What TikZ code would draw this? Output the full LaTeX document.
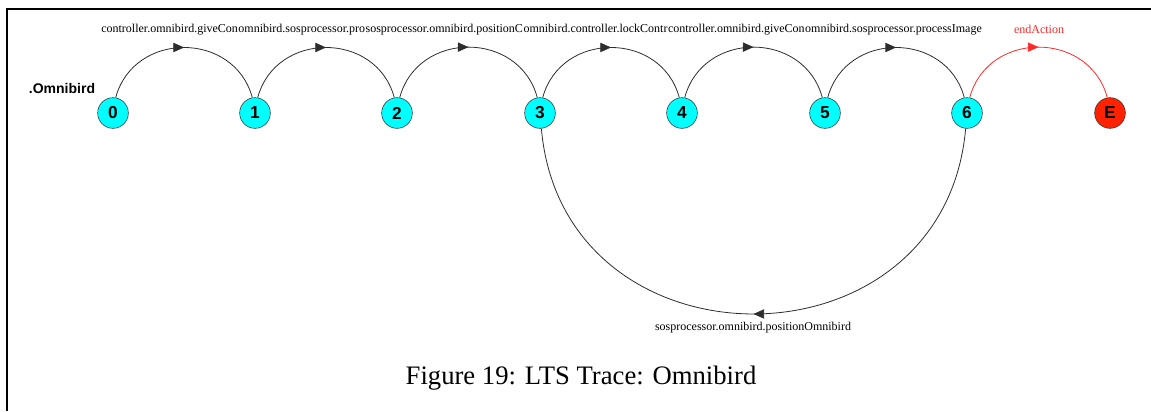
\documentclass[tikz,border=0pt]{standalone}
\usepackage{fontspec}
\setmainfont{Liberation Serif}
\setsansfont{Liberation Sans}
\usetikzlibrary{arrows.meta,decorations.markings}
\definecolor{stcyan}{RGB}{0,255,255}
\definecolor{stred}{RGB}{255,34,0}
\definecolor{actred}{RGB}{255,40,40}
\definecolor{edgegray}{RGB}{45,45,45}
\begin{document}
\begin{tikzpicture}[x=0.75pt,y=-0.75pt,
  st/.style={circle,draw=edgegray,fill=stcyan,minimum size=23pt,inner sep=0pt,font=\sffamily\bfseries\fontsize{13}{13}\selectfont},
  trans/.style={draw=edgegray,line width=0.6pt,postaction={decorate},decoration={markings,mark=at position 0.5 with {\arrow{Triangle[length=8pt,width=7pt]}}}},
  lbl/.style={inner sep=0pt,font=\fontsize{9}{9}\selectfont},
  toplbl/.style={lbl,anchor=base west}]
  \useasboundingbox (0,0) rectangle (1151,411);
  \draw[line width=1.5pt] (6.5,411) |- (1151,8.5);

  \foreach \i/\x in {0/113,1/255,2/397,3/540,4/682,5/825,6/967}
    \node[st] (n\i) at (\x,113) {\i};
  \node[st,fill=stred] (nE) at (1110,113) {E};
  \node[font=\sffamily\bfseries\fontsize{10.5}{10.5}\selectfont] (name) at (62,88) {.Omnibird};

  \foreach \a/\b in {0/1,1/2,2/3,3/4,4/5,5/6}
    \draw[trans] (n\a.80) to[out=75,in=105,looseness=1.3] (n\b.100);
  \draw[trans,draw=actred] (n6.80) to[out=75,in=105,looseness=1.3] (nE.100);
  \draw[trans] (n6.265) to[out=-95,in=-85,looseness=1.5] (n3.275);

  \node[toplbl] (l1) at (101,32) {controller.omnibird.giveCon};
  \node[toplbl] (l2) at (l1.base east) {omnibird.sosprocessor.pro};
  \node[toplbl] (l3) at (l2.base east) {sosprocessor.omnibird.positionC};
  \node[toplbl] (l4) at (l3.base east) {omnibird.controller.lockContr};
  \node[toplbl] (l5) at (l4.base east) {controller.omnibird.giveCon};
  \node[toplbl] (l6) at (l5.base east) {omnibird.sosprocessor.processImage};
  \node[lbl,text=actred] (lE) at (1039,29) {endAction};
  \node[lbl] (lB) at (753,328) {sosprocessor.omnibird.positionOmnibird};

  \node[font=\fontsize{20}{20}\selectfont] (cap) at (581,378) {Figure 19: LTS Trace: Omnibird};
\end{tikzpicture}
\end{document}
